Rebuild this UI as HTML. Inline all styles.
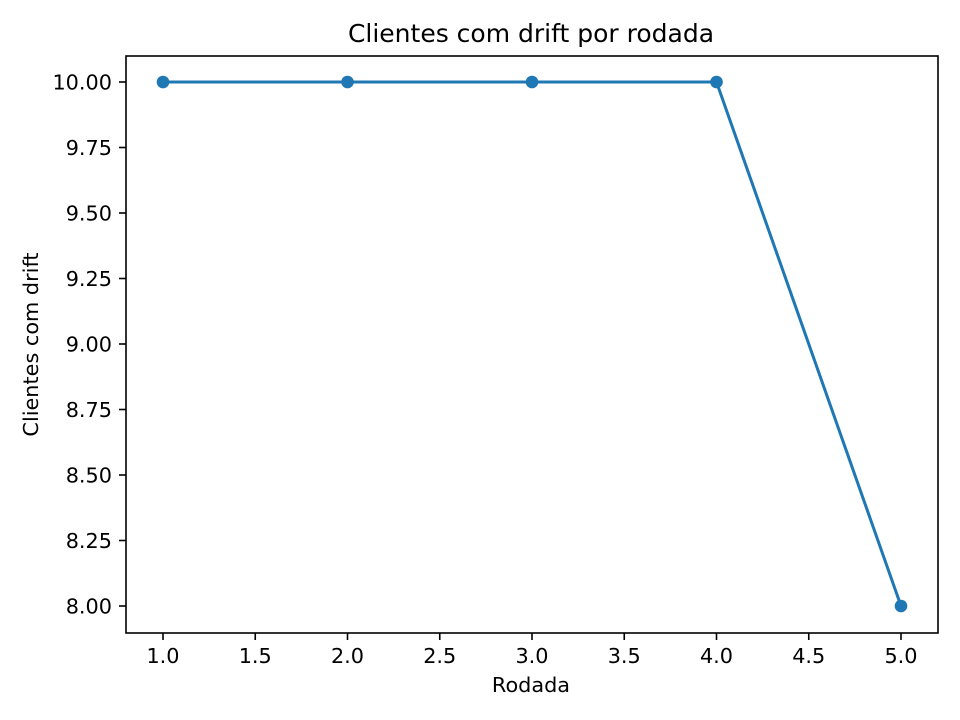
<!DOCTYPE html>
<html><head><meta charset="utf-8">
<style>
html,body{margin:0;padding:0;background:#fff;}
svg{display:block;font-family:"DejaVu Sans","Liberation Sans",sans-serif;}
</style></head>
<body>
<svg id="chart" width="960" height="720" viewBox="0 0 960 720">
<rect x="0" y="0" width="960" height="720" fill="#fff"/>
<text x="531" y="42" font-size="25" text-anchor="middle" fill="#000">Clientes com drift por rodada</text>
<g id="xticks"></g>
<g id="yticks"></g>
<g id="series"></g>
<rect x="126" y="56" width="812" height="577" fill="none" stroke="#000" stroke-width="1.6"/>
<text x="531" y="692" font-size="20.8" text-anchor="middle" fill="#000">Rodada</text>
<text x="38" y="344.5" font-size="20.8" text-anchor="middle" fill="#000" transform="rotate(-90 38 344.5)">Clientes com drift</text>
</svg>
<script>
const rounds = [1, 2, 3, 4, 5];
const clients = [10, 10, 10, 10, 8];
const xTickValues = [1.0, 1.5, 2.0, 2.5, 3.0, 3.5, 4.0, 4.5, 5.0];
const yTickValues = [8.00, 8.25, 8.50, 8.75, 9.00, 9.25, 9.50, 9.75, 10.00];

const NS = "http://www.w3.org/2000/svg";
function xs(v){ return 163 + (v - 1) * 184.5; }
function ys(v){ return 606 - (v - 8) * 262; }
function mk(tag, attrs, parent){
  const e = document.createElementNS(NS, tag);
  for (const k in attrs) e.setAttribute(k, attrs[k]);
  parent.appendChild(e);
  return e;
}
const gx = document.getElementById('xticks');
xTickValues.forEach(v => {
  const x = xs(v);
  const t = mk('line', {x1:x, x2:x, y1:633, y2:640, stroke:'#000', 'stroke-width':1.6}, gx);
  
  
  const l = mk('text', {x:x, y:663, 'font-size':20.8, 'text-anchor':'middle', fill:'#000'}, gx);
  l.textContent = v.toFixed(1);
  
  
});
const gy = document.getElementById('yticks');
yTickValues.forEach(v => {
  const y = ys(v);
  const t = mk('line', {x1:119, x2:126, y1:y, y2:y, stroke:'#000', 'stroke-width':1.6}, gy);
  
  
  const l = mk('text', {x:112, y:y + 7.5, 'font-size':20.8, 'text-anchor':'end', fill:'#000'}, gy);
  l.textContent = v.toFixed(2);
  
  
});
const gs = document.getElementById('series');
const pts = rounds.map((r, i) => xs(r) + ',' + ys(clients[i])).join(' ');
const line = mk('polyline', {points:pts, fill:'none', stroke:'#1f77b4', 'stroke-width':3, 'stroke-linejoin':'round'}, gs);


rounds.forEach((r, i) => {
  const c = mk('circle', {cx:xs(r), cy:ys(clients[i]), r:6.3, fill:'#1f77b4'}, gs);
  
  
});
</script>
</body></html>
